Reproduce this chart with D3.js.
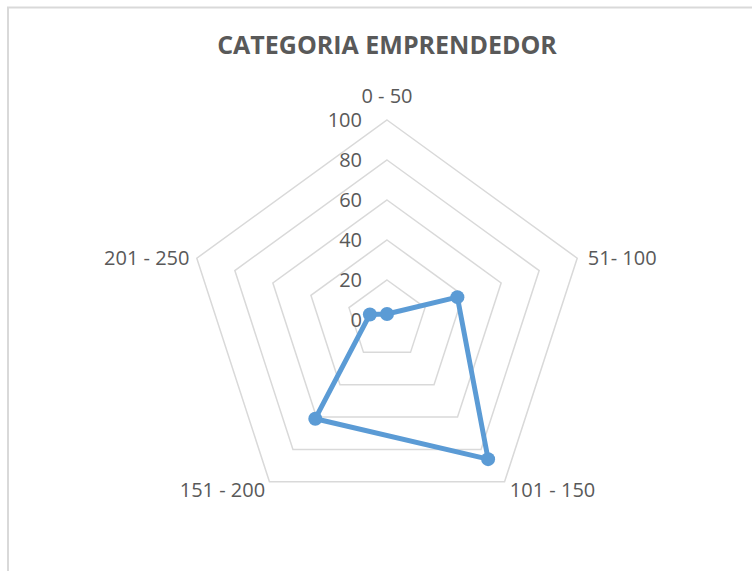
<!DOCTYPE html>
<html lang="es">
<head><meta charset="utf-8">
<title>Categoria emprendedor</title>
<style>
body {
  margin: 0;
  background: #ffffff;
  font-family: "Open Sans", sans-serif;
}
.grid {
  fill: none;
  stroke: #d9d9d9;
  stroke-width: 1.5px;
}
.serie {
  fill: none;
  stroke: #5b9bd5;
  stroke-width: 5px;
  stroke-linejoin: round;
}
text { fill: #595959; }
</style>
</head>
<body>
<svg></svg>
<script src="https://cdn.jsdelivr.net/npm/d3@7"></script>
<script>

// datos del grafico
var categorias = ["0 - 50", "51- 100", "101 - 150", "151 - 200", "201 - 250"];
var valores = [3, 37, 86, 61, 9];
var ticks = [0, 20, 40, 60, 80, 100];

var width = 752, height = 571;
var cx = 387, cy = 320, radio = 200;

var svg = d3.select("svg")
    .attr("width", width)
    .attr("height", height);

// marco del grafico
svg.append("path")
    .attr("d", "M8,580 L8,7.5 L760,7.5")
    .attr("fill", "none")
    .attr("stroke", "#d9d9d9")
    .attr("stroke-width", 2);

svg.append("text")
    .attr("x", cx)
    .attr("y", 54)
    .attr("text-anchor", "middle")
    .style("font-size", "25px")
    .style("font-weight", "bold")
    .text("CATEGORIA EMPRENDEDOR");

var r = d3.scaleLinear().domain([0, 100]).range([0, radio]);
var ang = d3.scalePoint().domain(categorias).range([0, 2 * Math.PI * (categorias.length - 1) / categorias.length]);

function punto(cat, v) {
  var a = ang(cat);
  return [cx + r(v) * Math.sin(a), cy - r(v) * Math.cos(a)];
}

var g = svg.append("g");

// pentagonos de la rejilla
g.selectAll(".grid")
  .data(ticks.slice(1))
  .enter().append("polygon")
    .attr("class", "grid")
    .attr("points", function(t) {
      return categorias.map(function(c) { return punto(c, t).join(","); }).join(" ");
    });

// etiquetas del eje
g.selectAll(".tick")
  .data(ticks)
  .enter().append("text")
    .attr("class", "tick")
    .attr("x", cx - 25)
    .attr("y", function(t) { return cy - r(t); })
    .attr("dy", "0.35em")
    .attr("text-anchor", "end")
    .style("font-size", "20px")
    .text(function(t) { return t; });

// etiquetas de categorias
var offs = [[0, -24], [45, 0], [48, 8], [-47, 8], [-50, 0]];
g.selectAll(".cat")
  .data(categorias)
  .enter().append("text")
    .attr("class", "cat")
    .attr("x", function(c, i) { return punto(c, 100)[0] + offs[i][0]; })
    .attr("y", function(c, i) { return punto(c, 100)[1] + offs[i][1]; })
    .attr("dy", "0.35em")
    .attr("text-anchor", "middle")
    .style("font-size", "20px")
    .text(function(c) { return c; });

var linea = d3.line().curve(d3.curveLinearClosed);

g.append("path")
    .attr("class", "serie")
    .attr("d", linea(categorias.map(function(c, i) { return punto(c, valores[i]); })));

g.selectAll(".punto")
  .data(categorias)
  .enter().append("circle")
    .attr("class", "punto")
    .attr("cx", function(c, i) { return punto(c, valores[i])[0]; })
    .attr("cy", function(c, i) { return punto(c, valores[i])[1]; })
    .attr("r", 7)
    .attr("fill", "#5b9bd5");

</script>
</body>
</html>
